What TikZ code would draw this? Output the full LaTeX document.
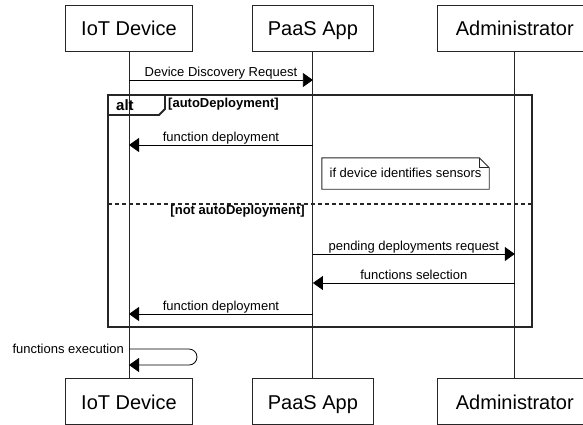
\documentclass[tikz,border=0pt]{standalone}
\usepackage{fontspec}
\setmainfont{Liberation Sans}
\usetikzlibrary{positioning,arrows.meta}

\begin{document}
\begin{tikzpicture}[x=1pt, y=-1pt,
            actornode/.style={rectangle, draw=black!85, line width=0.9pt, minimum width=#1, minimum height=46pt, inner sep=0pt, text height=17pt, text depth=2pt, font=\fontsize{20}{24}\selectfont},
            actornode/.default=120pt,
            notenode/.style={rectangle, minimum width=167pt, minimum height=31pt, inner sep=0pt, text height=10.5pt, text depth=2pt, font=\fontsize{13}{15}\selectfont},
            msgtext/.style={anchor=base, yshift=4pt, inner sep=0pt, font=\fontsize{13}{15}\selectfont},
            guardtext/.style={inner sep=0pt, font=\bfseries\fontsize{13}{15}\selectfont},
            msg/.style={-{Triangle[length=10pt, width=14pt]}, line width=0.8pt},
            lifeline/.style={line width=0.9pt, black!85},
            framebox/.style={line width=1.8pt, black!85},
            ]
            \useasboundingbox (0,0) rectangle (583,424);

            %Nodes
            \node[actornode=126.5pt]  (iot)                            at (129,28) {IoT Device};
            \node[actornode=121pt]    (paas)  [right=59.25pt of iot]   {PaaS App};
            \node[actornode=154pt]    (admin) [right=63.5pt of paas]   {Administrator};
            \node[actornode=126.5pt]  (iotb)  [below=327pt of iot]     {IoT Device};
            \node[actornode=121pt]    (paasb) [below=327pt of paas]    {PaaS App};
            \node[actornode=154pt]    (adminb)[below=327pt of admin]   {Administrator};

            \node[notenode]           (note)                           at (405.5,173.5) {if device identifies sensors};

            %Message rows
            \coordinate (m1) at (0,80);
            \coordinate (m2) at (0,145);
            \coordinate (m3) at (0,254);
            \coordinate (m4) at (0,283);
            \coordinate (m5) at (0,314);
            \coordinate (m6) at (0,349);
            \coordinate (m6b) at (0,365);

            %Lifelines
            \draw[lifeline] (iot) -- (iotb);
            \draw[lifeline] (paas) -- (paasb);
            \draw[lifeline] (admin) -- (adminb);

            %Fragment
            \draw[framebox] (108,95) rectangle (532,327);
            \draw[framebox] (108,115) -- (159,115) -- (165,109) -- (165,95);
            \node[inner sep=0pt, anchor=base west, font=\bfseries\fontsize{15}{17}\selectfont] (alt) at (116,110) {alt};
            \node[guardtext, anchor=base west] (guard1) at (168,107) {[autoDeployment]};
            \draw[line width=1.5pt, black!85, dash pattern=on 4pt off 3pt] (108,204) -- (532,204);
            \node[guardtext, anchor=base east] (guard2) at (305,214) {[not autoDeployment]};

            %Note
            \draw[line width=0.9pt, black!85] (note.north west) -- ([xshift=-10pt]note.north east) -- ([yshift=-10pt]note.north east) -- (note.south east) -- (note.south west) -- cycle;
            \draw[line width=0.7pt, black!85] ([xshift=-10pt]note.north east) -- ([xshift=-10pt, yshift=-10pt]note.north east) -- ([yshift=-10pt]note.north east);

            %Lines
            \draw[msg] (iot |- m1) -- node[msgtext] {Device Discovery Request} (paas |- m1);
            \draw[msg] (paas |- m2) -- node[msgtext] {function deployment} (iot |- m2);
            \draw[msg] (paas |- m3) -- node[msgtext] {pending deployments request} (admin |- m3);
            \draw[msg] (admin |- m4) -- node[msgtext] {functions selection} (paas |- m4);
            \draw[msg] (paas |- m5) -- node[msgtext] {function deployment} (iot |- m5);
            \draw[msg, rounded corners=8pt] (iot |- m6) -- ++(68,0) -- ++(0,16) -- (iot |- m6b);
            \node[inner sep=0pt, anchor=base east, font=\fontsize{13}{15}\selectfont] (exec) at (124,353) {functions execution};

        \end{tikzpicture}
\end{document}
